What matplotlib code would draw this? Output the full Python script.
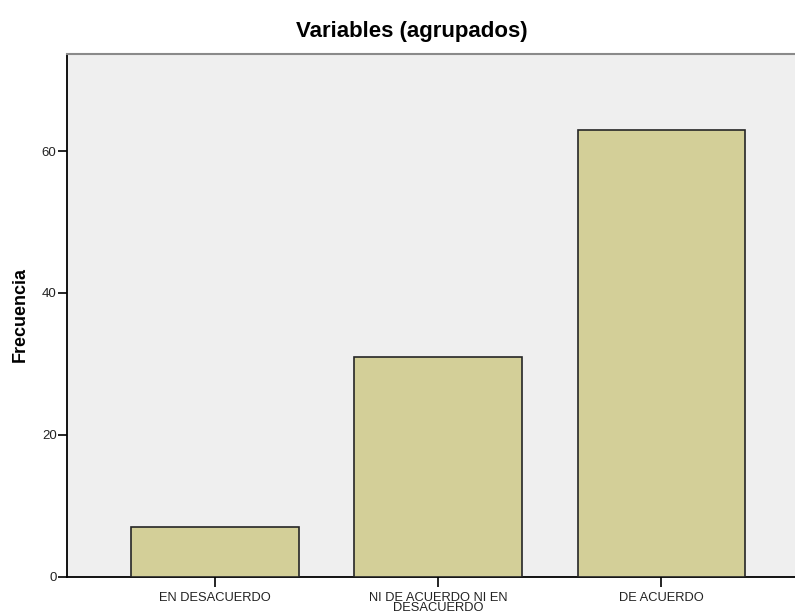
import matplotlib
matplotlib.use("Agg")
import matplotlib.pyplot as plt

categories = ["EN DESACUERDO", "NI DE ACUERDO NI EN\nDESACUERDO", "DE ACUERDO"]
frecuencias = [7, 31, 63]
yticks = [0, 20, 40, 60]

plt.rcParams.update({
    "font.family": ["Liberation Sans", "DejaVu Sans"],
})

fig = plt.figure(figsize=(7.95, 6.13), dpi=100)
ax = fig.add_axes([67 / 795, 36.5 / 613, 1 - 67 / 795, (576.5 - 54) / 613])
ax.set_facecolor("#efefef")

x = list(range(len(categories)))
ax.bar(x, frecuencias, width=0.75, color="#d3cf98", edgecolor="#262626", linewidth=1.2, zorder=3)

ax.set_xlim(-0.664, 2.6)
ax.set_ylim(0, 73.7)
ax.set_yticks(yticks)
ax.set_xticks(x)
ax.set_xticklabels(categories, fontsize=9.3, linespacing=0.78)
ax.tick_params(axis="y", length=6.5, width=1.2, labelsize=9.5, pad=1, labelcolor="#222222")
ax.tick_params(axis="x", length=7, width=1.2, pad=4.5, labelcolor="#222222")

for side in ["left", "bottom"]:
    ax.spines[side].set_color("#000000")
    ax.spines[side].set_linewidth(1.3)
ax.spines["top"].set_color("#8a8a8a")
ax.spines["top"].set_linewidth(1.5)
ax.spines["right"].set_visible(False)

fig.text(20 / 795, 1 - 314 / 613, "Frecuencia", rotation=90, ha="center", va="center",
         fontsize=13, fontweight="bold")
fig.text(412 / 795, 1 - 37 / 613, "Variables (agrupados)", ha="center", va="baseline",
         fontsize=16, fontweight="bold")

fig.savefig("out.png", dpi=100)
